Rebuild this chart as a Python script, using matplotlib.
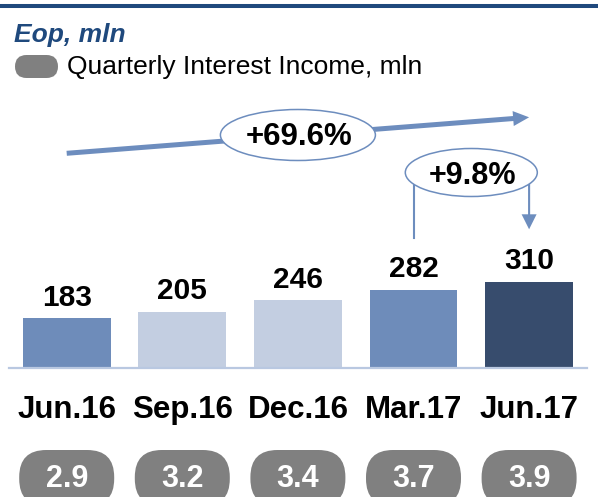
import matplotlib
matplotlib.use("Agg")
import matplotlib.pyplot as plt
from matplotlib.patches import Ellipse, FancyBboxPatch, FancyArrowPatch, ArrowStyle
from matplotlib.lines import Line2D
from matplotlib.transforms import IdentityTransform

# ---- data -------------------------------------------------------------
categories = ["Jun.16", "Sep.16", "Dec.16", "Mar.17", "Jun.17"]
eop_values = [183, 205, 246, 282, 310]          # Eop, mln
interest_income = [2.9, 3.2, 3.4, 3.7, 3.9]     # quarterly interest income, mln
growth_total = "+69.6%"
growth_qoq = "+9.8%"

# ---- style ------------------------------------------------------------
bar_colors = ["#6E8CBA", "#C3CEE1", "#C3CEE1", "#6E8CBA", "#374C6D"]
arrow_color = "#6D8DBE"
navy = "#1F497D"
pill_grey = "#808080"

plt.rcParams["font.family"] = ["Liberation Sans", "DejaVu Sans"]

W, H = 598, 497
DPI = 100
fig = plt.figure(figsize=(W / DPI, H / DPI), dpi=DPI)
fig.patch.set_facecolor("white")
PIX = IdentityTransform()


def P(x, y):
    """Pixel position measured from the top-left corner."""
    return (x, H - y)


# ---- bars -------------------------------------------------------------
y_floor, px_per_unit = 12.3, 0.2882
ax = fig.add_axes([8.9 / W, (H - 367.5) / H, 578 / W, 267.5 / H])
ax.bar(range(len(categories)), eop_values, width=0.76, color=bar_colors, zorder=1)
ax.set_xlim(-0.5, len(categories) - 0.5)
ax.set_ylim(y_floor, y_floor + 267.5 / px_per_unit)
ax.set_xticks([])
ax.set_yticks([])
for side in ("top", "left", "right"):
    ax.spines[side].set_visible(False)
ax.spines["bottom"].set_color("#B9C8E1")
ax.spines["bottom"].set_linewidth(1.6)
ax.patch.set_alpha(0)

for i, v in enumerate(eop_values):
    ax.annotate(str(v), xy=(i, v), xytext=(0, 9), textcoords="offset points",
                ha="center", va="baseline", fontsize=21.5, fontweight="bold",
                annotation_clip=False)

xc = [ax.transData.transform((i, 0))[0] for i in range(len(categories))]

# ---- category labels and interest-income pills --------------------------
for i, cat in enumerate(categories):
    fig.text(*P(xc[i], 418), cat, transform=PIX, ha="center", va="baseline",
             fontsize=22.5, fontweight="bold", color="black")
    pill = FancyBboxPatch(P(xc[i] - 47.5, 506), 95, 56,
                          boxstyle="round,pad=0,rounding_size=27",
                          transform=PIX, facecolor=pill_grey, edgecolor="none",
                          zorder=2)
    fig.add_artist(pill)
    fig.text(*P(xc[i], 486.7), f"{interest_income[i]:.1f}", transform=PIX,
             ha="center", va="baseline", fontsize=22, fontweight="bold",
             color="white", zorder=3)

# ---- header -----------------------------------------------------------
fig.add_artist(Line2D([0, W], [H - 6, H - 6], transform=PIX, color=navy,
                      linewidth=2.9, solid_capstyle="butt"))
fig.text(*P(14, 41.7), "Eop, mln", transform=PIX, ha="left", va="baseline",
         fontsize=19, fontweight="bold", fontstyle="italic", color=navy)
fig.add_artist(FancyBboxPatch(P(15, 78), 43, 23,
                              boxstyle="round,pad=0,rounding_size=11.5",
                              transform=PIX, facecolor=pill_grey,
                              edgecolor="none"))
fig.text(*P(67, 74), "Quarterly Interest Income, mln", transform=PIX,
         ha="left", va="baseline", fontsize=19, color="black")

# ---- overall growth arrow ---------------------------------------------
fig.add_artist(FancyArrowPatch(
    P(xc[0], 153.3), P(xc[-1], 117.3), transform=PIX,
    arrowstyle=ArrowStyle.Simple(head_length=11.5, head_width=10.8, tail_width=3.6),
    mutation_scale=1, shrinkA=0, shrinkB=0, color=arrow_color, linewidth=0,
    zorder=3))
fig.add_artist(Ellipse(P(xc[2], 135), 155, 51, transform=PIX,
                       facecolor="white", edgecolor=arrow_color,
                       linewidth=1.1, zorder=4))
fig.text(*P(xc[2] + 1, 145), growth_total, transform=PIX, ha="center",
         va="baseline", fontsize=22.5, fontweight="bold", zorder=5)

# ---- quarter-on-quarter bracket -----------------------------------------
qx = (xc[3] + xc[4]) / 2
fig.add_artist(Line2D([xc[3], xc[3]], [H - 237.7, H - 172.5], transform=PIX,
                      color=arrow_color, linewidth=1.5, zorder=3))
fig.add_artist(FancyArrowPatch(
    P(xc[4], 172.5), P(xc[4], 229.3), transform=PIX,
    arrowstyle=ArrowStyle.Simple(head_length=10.8, head_width=10.8, tail_width=1.5),
    mutation_scale=1, shrinkA=0, shrinkB=0, color=arrow_color, linewidth=0,
    zorder=3))
fig.add_artist(Ellipse(P(qx, 172.5), 132, 48, transform=PIX,
                       facecolor="white", edgecolor=arrow_color,
                       linewidth=1.1, zorder=4))
fig.text(*P(qx + 1, 184), growth_qoq, transform=PIX, ha="center",
         va="baseline", fontsize=22, fontweight="bold", zorder=5)

fig.savefig("out.png", dpi=DPI, facecolor="white")
